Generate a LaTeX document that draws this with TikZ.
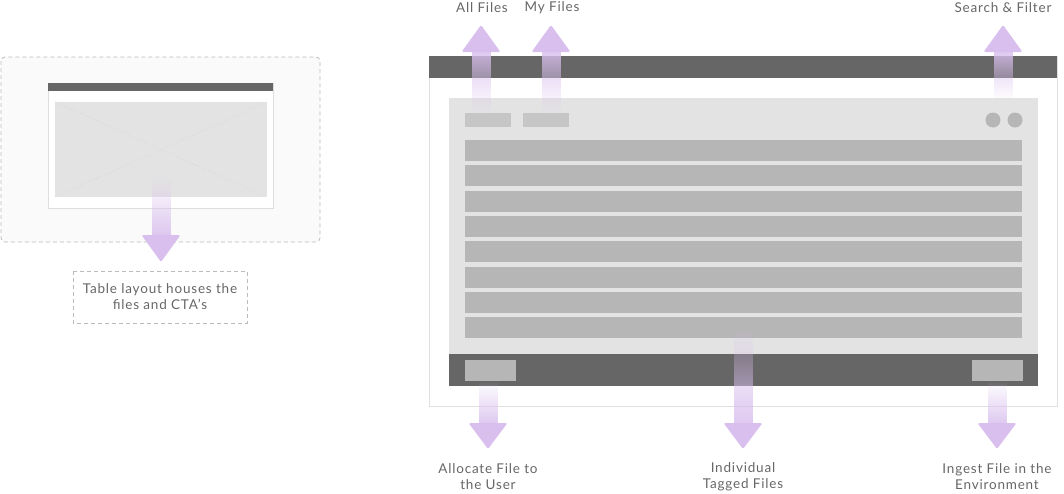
\documentclass[tikz,border=0pt]{standalone}
\usepackage{fontspec}
\setmainfont[LetterSpace=6]{Lato}
\usetikzlibrary{fadings}
\definecolor{dark}{HTML}{666666}
\definecolor{panel}{HTML}{E3E3E3}
\definecolor{rowc}{HTML}{B6B6B6}
\definecolor{tabc}{HTML}{C6C6C6}
\definecolor{purp}{HTML}{D9BFEE}
\definecolor{txt}{HTML}{666666}
\definecolor{dash}{HTML}{BBBBBB}
\tikzfading[name=fadeup, top color=transparent!15, bottom color=transparent!100]
\tikzfading[name=fadedown, top color=transparent!100, bottom color=transparent!15]
\tikzset{
  lbl/.style={text=txt, font=\fontsize{13.5}{16}\selectfont, align=center, inner sep=0pt},
  dashbox/.style={draw=dash, dashed, dash pattern=on 4pt off 3pt, line width=0.8pt},
  shaftup/.style={fill=purp, path fading=fadeup},
  shaftdown/.style={fill=purp, path fading=fadedown},
  headc/.style={fill=purp, rounded corners=1.5pt},
}
% up arrow: #1 centre x, #2 tip y, #3 head base y, #4 shaft bottom y
\newcommand\myuparrow[4]{%
  \fill[shaftup] (#1-9.5,#4) rectangle (#1+9.5,#3);
  \fill[headc] (#1-19.5,#3) -- (#1,#2) -- (#1+19.5,#3) -- cycle;}
\newcommand\mydownarrow[4]{%
  \fill[shaftdown] (#1-9.5,#4) rectangle (#1+9.5,#3);
  \fill[headc] (#1-19.5,#3) -- (#1,#2) -- (#1+19.5,#3) -- cycle;}
\begin{document}
\begin{tikzpicture}[x=1pt,y=-1pt]
\useasboundingbox (0,0) rectangle (1064,493);
% ---------- left panel ----------
\draw[dashbox, fill=black!2, rounded corners=4pt] (1,57) rectangle (320,242);
\draw[draw=black!13, fill=white, line width=0.8pt] (48,83) rectangle (273,208);
\fill[dark] (48,83) rectangle (273,91);
\fill[panel] (55,102) rectangle (267,197);
\draw[black!20, dotted, line width=0.5pt] (55,102) -- (267,197) (55,197) -- (267,102);
\mydownarrow{161}{262}{235}{177}
\draw[dashbox] (73,271) rectangle (247,323);
\node[lbl] (tbl) at (160,297) {Table layout houses the\\files and CTA’s};
% ---------- right window ----------
\draw[draw=black!12, fill=white, line width=1pt] (429,56) rectangle (1057,406);
\fill[dark] (429,56) rectangle (1057,78);
\fill[panel] (449,98) rectangle (1038,354);
\fill[dark] (449,354) rectangle (1038,386);
\fill[tabc] (465,113) rectangle (511,127);
\fill[tabc] (523,113) rectangle (569,127);
\fill[rowc] (993,120) circle (7.5);
\fill[rowc] (1015,120) circle (7.5);
\foreach \i in {0,...,7}{
  \fill[rowc] (465,140+25.3*\i) rectangle (1022,161+25.3*\i);
}
\fill[rowc] (465,360) rectangle (516,381);
\fill[rowc] (972,360) rectangle (1023,381);
% ---------- arrows ----------
\myuparrow{481}{25}{52}{113}
\myuparrow{551}{25}{52}{113}
\myuparrow{1003}{25}{52}{100}
\mydownarrow{488}{449}{423}{381}
\mydownarrow{743}{449}{423}{325}
\mydownarrow{997}{449}{423}{381}
% ---------- labels ----------
\node[lbl] (all) at (482,8) {All Files};
\node[lbl] (my) at (552,8) {My Files};
\node[lbl] (search) at (1003,8) {Search \& Filter};
\node[lbl] (alloc) at (488,477) {Allocate File to\\the User};
\node[lbl] (indiv) at (743,477) {Individual\\Tagged Files};
\node[lbl] (ingest) at (997,477) {Ingest File in the\\Environment};
\end{tikzpicture}
\end{document}
